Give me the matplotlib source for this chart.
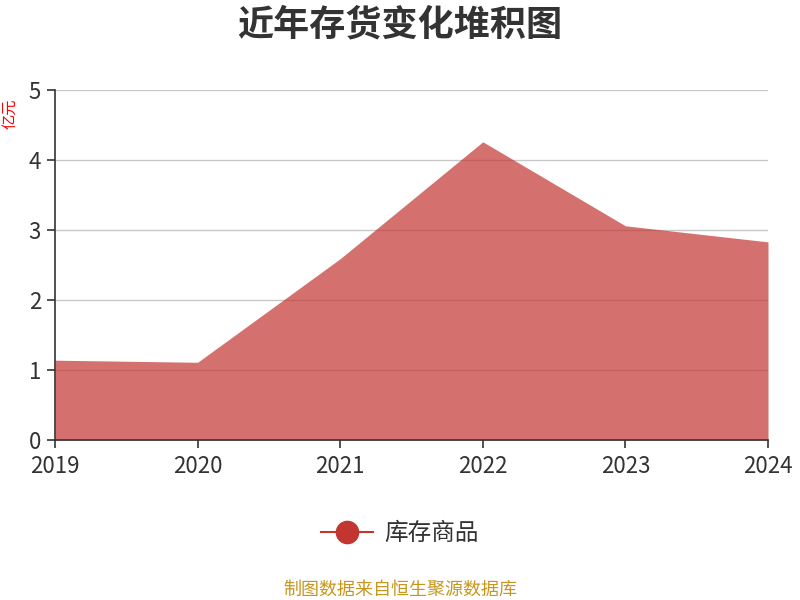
"""近年存货变化堆积图"""

import matplotlib
matplotlib.use("Agg")
import matplotlib.pyplot as plt

plt.rcParams['font.family'] = ['Noto Sans CJK SC', 'DejaVu Sans']

years = ['2019', '2020', '2021', '2022', '2023', '2024']
inventory = [1.14, 1.11, 2.59, 4.26, 3.06, 2.83]
series_name = '库存商品'
title = '近年存货变化堆积图'
source = '制图数据来自恒生聚源数据库'
y_label = '亿元'
y_ticks = [0, 1, 2, 3, 4, 5]

fig = plt.figure(figsize=(8, 6), dpi=100)
ax = fig.add_axes([0.06875, 0.2667, 0.89125, 0.5833])

x = list(range(len(years)))
ax.fill_between(x, inventory, 0, color='#c23531', alpha=0.7, linewidth=0, zorder=2)
ax.plot([], [], color='#c23531', marker='o', markersize=16, linewidth=1.5,
        label=series_name)

ax.set_xlim(0, len(years) - 1)
ax.set_ylim(0, 5)
ax.set_xticks(x)
ax.set_xticklabels(years)
ax.set_yticks(y_ticks)

ax.grid(axis='y', color='#c8c8c8', linewidth=1, zorder=1)
ax.set_axisbelow(True)
for s in ['top', 'right']:
    ax.spines[s].set_visible(False)
for s in ['left', 'bottom']:
    ax.spines[s].set_color('#333333')
    ax.spines[s].set_linewidth(1.2)
    ax.spines[s].set_zorder(3)
ax.tick_params(axis='both', colors='#333333', labelsize=16, length=6, width=1.2)
ax.tick_params(axis='y', pad=4)
ax.tick_params(axis='x', pad=5)

fig.text(0.5, 0.958, title, ha='center', va='center', fontsize=26,
         fontweight='bold', color='#333333')
fig.text(0.012, 0.81, y_label, rotation=90, ha='center', va='center',
         fontsize=11, color='red')

leg = fig.legend(loc='center', bbox_to_anchor=(0.5, 0.111), frameon=False,
                 fontsize=17, handlelength=2.2, handletextpad=0.5)
for t in leg.get_texts():
    t.set_color('#333333')

fig.text(0.5, 0.017, source, ha='center', va='center', fontsize=13,
         color='#c8961e')

fig.savefig('out.png', dpi=100)
